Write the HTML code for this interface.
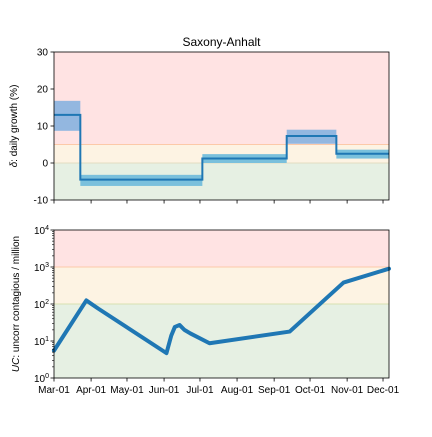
<!DOCTYPE html>
<html><head><meta charset="utf-8"><style>
body{margin:0;background:#fff}
svg{font-family:"Liberation Sans","DejaVu Sans",sans-serif}
</style></head><body>
<svg id="c" width="432" height="432" viewBox="0 0 432 432"></svg>
<script>
const tickDays=[0,31,61,92,122,153,184,214,245,275];
const tickLabels=["Mar-01","Apr-01","May-01","Jun-01","Jul-01","Aug-01","Sep-01","Oct-01","Nov-01","Dec-01"];
const stepStarts=[0,22,124,194.5,236];
const stepEnds=[22,124,194.5,236,280];
const stepVals=[13,-4.5,1.2,7.3,2.5];
const bandLo=[8.7,-6.2,0,5.2,1.2];
const bandHi=[16.8,-3.2,2.4,9,3.6];
const ucDays=[0,27,37,94,98,101,105,109,114,130,197,242,280];
const ucVals=[5.5,125,75,4.7,14,24,27,20,16,8.7,18,380,900];
const topTicks=[30,20,10,0,-10];
const logTicks=[0,1,2,3,4];

const NS="http://www.w3.org/2000/svg",svg=document.getElementById('c');
function el(t,a,p){const e=document.createElementNS(NS,t);for(const k in a)e.setAttribute(k,a[k]);(p||svg).appendChild(e);return e;}
const X0=54,X1=389,D0=0,D1=280;
const x=d=>X0+(d-D0)/(D1-D0)*(X1-X0);
const T0=52,T1=200,yT=v=>T0+(30-v)/40*(T1-T0);
const B0=230,B1=378,yB=v=>B1-Math.log10(v)/4*(B1-B0);

// top panel
const gt=el('g',{});

let r=el('rect',{x:X0,y:yT(30),width:X1-X0,height:yT(5)-yT(30),fill:'#ffe3e3'},gt);
r=el('rect',{x:X0,y:yT(5),width:X1-X0,height:yT(0)-yT(5),fill:'#fdf3e3'},gt);
r=el('rect',{x:X0,y:yT(0),width:X1-X0,height:yT(-10)-yT(0),fill:'#e6f0e3'},gt);
el('line',{x1:X0,x2:X1,y1:yT(5),y2:yT(5),stroke:'#fcc9a8','stroke-width':1},gt);
el('line',{x1:X0,x2:X1,y1:yT(0),y2:yT(0),stroke:'#e2dcc0','stroke-width':1},gt);
const bandCols=['#93b7e0','#7ac0dc','#7ac0dc','#93b7e0','#7ac0dc'];
for(let i=0;i<stepVals.length;i++){
 const b=el('rect',{x:x(stepStarts[i]),y:yT(bandHi[i]),width:x(stepEnds[i])-x(stepStarts[i]),height:yT(bandLo[i])-yT(bandHi[i]),fill:bandCols[i]},gt);
 
 
}
let d='';
for(let i=0;i<stepVals.length;i++){d+=(i?'L':'M')+x(stepStarts[i])+','+yT(stepVals[i])+'L'+x(stepEnds[i])+','+yT(stepVals[i]);}
let p=el('path',{d:d,fill:'none',stroke:'#1f77b4','stroke-width':2},gt);

el('rect',{x:X0,y:T0,width:X1-X0,height:T1-T0,fill:'none',stroke:'#000','stroke-width':0.8},gt);
topTicks.forEach(v=>{el('line',{x1:X0-3.5,x2:X0,y1:yT(v),y2:yT(v),stroke:'#000','stroke-width':0.8},gt);
 const t=el('text',{x:X0-6,y:yT(v)+3.5,'text-anchor':'end','font-size':10},gt);t.textContent=v;
 });
tickDays.forEach(dd=>el('line',{x1:x(dd),x2:x(dd),y1:T1,y2:T1+3.5,stroke:'#000','stroke-width':0.8},gt));
let t=el('text',{x:(X0+X1)/2,y:T0-6,'text-anchor':'middle','font-size':12},gt);t.textContent='Saxony-Anhalt';

t=el('text',{transform:`translate(17,${(T0+T1)/2}) rotate(-90)`,'text-anchor':'middle','font-size':10},gt);
t.innerHTML='<tspan font-style="italic">δ</tspan>: daily growth (%)';


// bottom panel
const gb=el('g',{});

el('rect',{x:X0,y:yB(1e4),width:X1-X0,height:yB(1e3)-yB(1e4),fill:'#ffe3e3'},gb);
el('rect',{x:X0,y:yB(1e3),width:X1-X0,height:yB(100)-yB(1e3),fill:'#fdf3e3'},gb);
el('rect',{x:X0,y:yB(100),width:X1-X0,height:yB(1)-yB(100),fill:'#e6f0e3'},gb);
el('line',{x1:X0,x2:X1,y1:yB(1e3),y2:yB(1e3),stroke:'#fcc9a8','stroke-width':1},gb);
el('line',{x1:X0,x2:X1,y1:yB(100),y2:yB(100),stroke:'#d8e0b0','stroke-width':1},gb);
d='';ucDays.forEach((dd,i)=>{d+=(i?'L':'M')+x(dd)+','+yB(ucVals[i]);});
p=el('path',{d:d,fill:'none',stroke:'#1f77b4','stroke-width':4,'stroke-linejoin':'round','stroke-linecap':'round'},gb);

el('rect',{x:X0,y:B0,width:X1-X0,height:B1-B0,fill:'none',stroke:'#000','stroke-width':0.8},gb);
logTicks.forEach(k=>{el('line',{x1:X0-3.5,x2:X0,y1:yB(10**k),y2:yB(10**k),stroke:'#000','stroke-width':0.8},gb);
 if(k<4)for(let m=2;m<10;m++)el('line',{x1:X0-2,x2:X0,y1:yB(m*10**k),y2:yB(m*10**k),stroke:'#000','stroke-width':0.6},gb);
 const tt=el('text',{x:X0-5,y:yB(10**k)+4,'text-anchor':'end','font-size':10},gb);
 tt.innerHTML='10<tspan dy="-4" font-size="7">'+k+'</tspan>';
 });
tickDays.forEach((dd,i)=>{el('line',{x1:x(dd),x2:x(dd),y1:B1,y2:B1+3.5,stroke:'#000','stroke-width':0.8},gb);
 const tt=el('text',{x:x(dd),y:B1+15,'text-anchor':'middle','font-size':10},gb);tt.textContent=tickLabels[i];
 });
t=el('text',{transform:`translate(19,${(B0+B1)/2}) rotate(-90)`,'text-anchor':'middle','font-size':10},gb);
t.innerHTML='<tspan font-style="italic">UC</tspan>: uncorr contagious / million';

</script>
</body></html>
